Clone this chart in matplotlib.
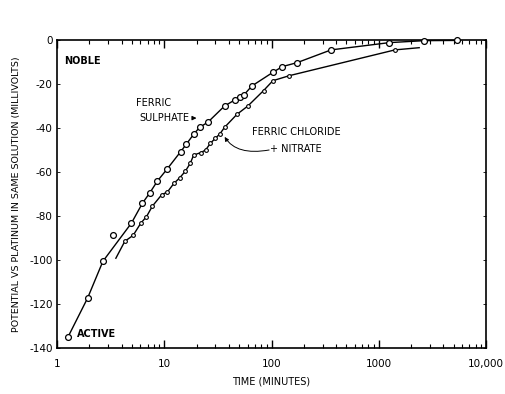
import matplotlib.pyplot as plt
from matplotlib.ticker import FixedLocator, LogLocator, NullFormatter

# Ferric sulphate - measured points (minutes, millivolts)
sulphate_t = [1.27, 1.93, 2.68, 3.34, 4.95, 6.26, 7.33, 8.64, 10.7, 14.2, 16.1, 18.9,
              21.4, 25.6, 36.5, 45.3, 50.4, 55.2, 65.6, 103, 126, 173, 359, 1253, 2650, 5410]
sulphate_mv = [-134.9, -117.3, -100.6, -88.8, -83.2, -74.2, -69.5, -64.1, -58.5, -50.8, -47.3, -42.7,
               -39.7, -37.3, -30.0, -27.3, -26.0, -25.0, -20.9, -14.7, -12.1, -10.3, -4.5, -1.2, -0.3, -0.2]
# hand drawn curve for sulphate (skips the stray point at 3.3 min)
sulphate_curve_t = [1.27, 1.93, 2.68, 4.95, 6.26, 7.33, 8.64, 10.7, 14.2, 16.1, 18.9,
                    21.4, 25.6, 36.5, 45.3, 55.2, 65.6, 103, 126, 173, 359, 1253, 2650, 5410]
sulphate_curve_mv = [-134.9, -117.3, -100.6, -83.2, -74.2, -69.5, -64.1, -58.5, -50.8, -47.3, -42.7,
                     -39.7, -37.3, -30.0, -27.3, -25.0, -20.9, -14.7, -12.1, -10.3, -4.5, -1.2, -0.3, -0.2]

# Ferric chloride + nitrate
chloride_t = [4.29, 5.13, 6.04, 6.83, 7.76, 9.48, 10.7, 12.3, 13.9, 15.7, 17.5, 18.8,
              21.9, 24.3, 26.9, 29.9, 33.0, 36.5, 47.6, 60.2, 84.3, 103, 147, 1415]
chloride_mv = [-91.5, -88.8, -83.3, -80.3, -75.5, -70.3, -69.1, -65.2, -62.7, -59.7, -56.0, -52.3,
               -51.2, -50.0, -47.0, -44.7, -42.7, -39.7, -33.8, -30.0, -23.0, -18.5, -16.2, -4.5]
chloride_curve_t = [3.54] + chloride_t + [2380]
chloride_curve_mv = [-99.2] + chloride_mv + [-3.5]

xticks = [1, 10, 100, 1000, 10000]
xticklabels = ["1", "10", "100", "1000", "10,000"]
yticks = [0, -20, -40, -60, -80, -100, -120, -140]
yticklabels = ["0", "-20", "-40", "-60", "-80", "-100", "-120", "-140"]

fig = plt.figure(figsize=(5.06, 3.94), dpi=100)
ax = fig.add_axes([0.1126, 0.1168, 0.8480, 0.7817])

ax.plot(sulphate_curve_t, sulphate_curve_mv, color='black', lw=1.0, zorder=2, clip_on=False)
ax.plot(chloride_curve_t, chloride_curve_mv, color='black', lw=1.0, zorder=2)
ax.plot(sulphate_t, sulphate_mv, 'o', ms=4.2, mfc='white', mec='black', mew=0.9, zorder=3, clip_on=False)
ax.plot(chloride_t, chloride_mv, 'o', ms=2.7, mfc='white', mec='black', mew=0.8, zorder=3)

ax.set_xscale('log')
ax.set_xlim(1, 10000)
ax.set_ylim(-140, 0)
ax.xaxis.set_major_locator(FixedLocator(xticks))
ax.set_xticklabels(xticklabels)
ax.xaxis.set_minor_locator(LogLocator(base=10, subs=range(2, 10)))
ax.xaxis.set_minor_formatter(NullFormatter())
ax.set_yticks(yticks)
ax.set_yticklabels(yticklabels)

ax.tick_params(axis='x', which='major', direction='in', top=True, length=6, width=1, labelsize=7.5, pad=8)
ax.tick_params(axis='x', which='minor', direction='in', top=True, length=3, width=0.8)
ax.tick_params(axis='y', which='major', direction='in', right=True, length=2, width=0.6, labelsize=7.5, pad=3)
for s in ax.spines.values():
    s.set_linewidth(1.2)

ax.set_xlabel("TIME (MINUTES)", fontsize=7, labelpad=5)
ax.set_ylabel("POTENTIAL VS PLATINUM IN SAME SOLUTION (MILLIVOLTS)", fontsize=6.8, labelpad=6)

ax.text(1.16, -9.5, "NOBLE", fontsize=7, fontweight='bold', va='center')
ax.text(1.55, -133.5, "ACTIVE", fontsize=7, fontweight='bold', va='center')

ax.text(5.4, -28.5, "FERRIC", fontsize=7, va='center')
ax.annotate("SULPHATE", xy=(20.0, -35.5), xytext=(5.9, -35.5), fontsize=7, va='center',
            arrowprops=dict(arrowstyle='-|>', color='black', lw=0.8, mutation_scale=6,
                            shrinkA=0, shrinkB=0))
ax.text(66, -42, "FERRIC CHLORIDE", fontsize=7, va='center')
ax.text(96, -49.5, "+ NITRATE", fontsize=7, va='center')
ax.annotate("", xy=(36, -43.5), xytext=(95, -50.0),
            arrowprops=dict(arrowstyle='-|>', color='black', lw=0.7, mutation_scale=6,
                            connectionstyle='angle3,angleA=10,angleB=-60', shrinkA=0, shrinkB=1))

fig.savefig("out.png", dpi=100)
